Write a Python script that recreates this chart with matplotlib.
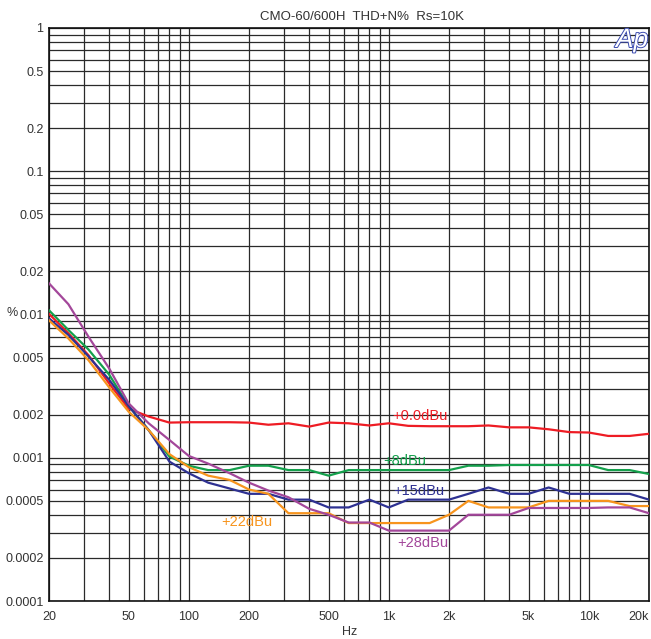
import matplotlib
matplotlib.use("Agg")
import matplotlib.pyplot as plt
import matplotlib.patheffects as pe
from matplotlib.ticker import FixedLocator, FixedFormatter, LogLocator, NullFormatter

# 1/3-octave measurement points, Hz
freq = [20, 25, 31.5, 40, 50, 63, 80, 100, 125, 160, 200, 250, 315, 400, 500,
        630, 800, 1000, 1250, 1600, 2000, 2500, 3150, 4000, 5000, 6300, 8000,
        10000, 12500, 16000, 20000]

# THD+N in percent for each drive level
thd_0dbu = [0.0101, 0.0074, 0.0052, 0.0033, 0.0022, 0.00194, 0.00176, 0.00177,
            0.00177, 0.00177, 0.00176, 0.00170, 0.00174, 0.00165, 0.00176,
            0.00174, 0.00168, 0.00174, 0.00167, 0.00166, 0.00166, 0.00166,
            0.00168, 0.00163, 0.00163, 0.00158, 0.00151, 0.00150, 0.00142,
            0.00142, 0.00147]
thd_8dbu = [0.0107, 0.0078, 0.0057, 0.0038, 0.0023, 0.00156, 0.00102, 0.00088,
            0.00082, 0.00082, 0.00088, 0.00088, 0.00082, 0.00082, 0.00075,
            0.00082, 0.00082, 0.00082, 0.00082, 0.00082, 0.00082, 0.00088,
            0.00088, 0.00089, 0.00089, 0.00089, 0.00089, 0.00089, 0.00082,
            0.00082, 0.00077]
thd_15dbu = [0.0094, 0.0072, 0.0051, 0.0035, 0.0023, 0.00156, 0.00094, 0.00078,
             0.00067, 0.00061, 0.00056, 0.00056, 0.00051, 0.00051, 0.00045,
             0.00045, 0.00051, 0.00045, 0.00051, 0.00051, 0.00051, 0.00056,
             0.00062, 0.00056, 0.00056, 0.00062, 0.00056, 0.00056, 0.00056,
             0.00056, 0.00051]
thd_22dbu = [0.0091, 0.0068, 0.0048, 0.0031, 0.0021, 0.00156, 0.00106, 0.00086,
             0.00075, 0.00070, 0.00060, 0.00056, 0.00041, 0.00041, 0.00041,
             0.00035, 0.00035, 0.00035, 0.00035, 0.00035, 0.00040, 0.00050,
             0.00045, 0.00045, 0.00045, 0.00050, 0.00050, 0.00050, 0.00050,
             0.00046, 0.00046]
thd_28dbu = [0.0165, 0.0118, 0.0070, 0.0042, 0.0024, 0.00174, 0.00133, 0.00103,
             0.00091, 0.00078, 0.00067, 0.00059, 0.00053, 0.00044, 0.00040,
             0.000353, 0.000353, 0.00031, 0.00031, 0.00031, 0.00031, 0.00040,
             0.00040, 0.00040, 0.000446, 0.000446, 0.000446, 0.000446, 0.00045,
             0.00045, 0.00041]

series = [
    ("+0.0dBu", thd_0dbu, "#ee1c24", (392, 416)),
    ("+8dBu", thd_8dbu, "#14a04c", (383, 461)),
    ("+15dBu", thd_15dbu, "#2e3192", (393, 491)),
    ("+22dBu", thd_22dbu, "#f7941d", (221, 522)),
    ("+28dBu", thd_28dbu, "#a3479a", (397, 543)),
]

x_ticks = [20, 50, 100, 200, 500, 1000, 2000, 5000, 10000, 20000]
x_labels = ["20", "50", "100", "200", "500", "1k", "2k", "5k", "10k", "20k"]
y_ticks = [1, 0.5, 0.2, 0.1, 0.05, 0.02, 0.01, 0.005, 0.002, 0.001,
           0.0005, 0.0002, 0.0001]
y_labels = ["1", "0.5", "0.2", "0.1", "0.05", "0.02", "0.01", "0.005",
            "0.002", "0.001", "0.0005", "0.0002", "0.0001"]

font = ["Liberation Sans Narrow", "Liberation Sans", "DejaVu Sans"]
plt.rcParams["font.family"] = font

W, H = 651, 639
fig = plt.figure(figsize=(W / 100, H / 100), dpi=100)
ax = fig.add_axes([49 / W, 1 - 601 / H, 600 / W, 573 / H])

ax.set_xscale("log")
ax.set_yscale("log")
ax.set_xlim(20, 20000)
ax.set_ylim(0.0001, 1)

# grid on every 1..9 subdivision of each decade
ax.xaxis.set_minor_locator(LogLocator(base=10, subs=range(1, 10), numticks=50))
ax.yaxis.set_minor_locator(LogLocator(base=10, subs=range(1, 10), numticks=50))
ax.xaxis.set_minor_formatter(NullFormatter())
ax.yaxis.set_minor_formatter(NullFormatter())
ax.grid(which="both", color="#2a2a2a", linewidth=0.9)
ax.set_axisbelow(True)

ax.xaxis.set_major_locator(FixedLocator(x_ticks))
ax.xaxis.set_major_formatter(FixedFormatter(x_labels))
ax.yaxis.set_major_locator(FixedLocator(y_ticks))
ax.yaxis.set_major_formatter(FixedFormatter(y_labels))
ax.tick_params(which="both", length=0, labelsize=9, colors="#333333")
ax.tick_params(axis="x", pad=7)
ax.tick_params(axis="y", pad=4)

# keep the last frequency label inside the figure
fig.canvas.draw()
ax.get_xticklabels()[-1].set_horizontalalignment("right")

for s in ax.spines.values():
    s.set_color("#111111")
    s.set_linewidth(1.2)

for name, vals, color, (lx, ly) in series:
    ax.plot(freq, vals, color=color, linewidth=1.6, zorder=3)
    fig.text(lx / W, 1 - ly / H, name, color=color, fontsize=10.5,
             va="center", ha="left")

fig.text(362 / W, 1 - 17 / H, "CMO-60/600H  THD+N%  Rs=10K", ha="center",
         va="center", fontsize=9.5, color="#333333")
fig.text(12 / W, 1 - 313 / H, "%", ha="center", va="center", fontsize=9,
         color="#333333")
fig.text(350 / W, 1 - 632 / H, "Hz", ha="center", va="center", fontsize=9,
         color="#333333")

# Ap logo in the upper right corner
logo = fig.text(632 / W, 1 - 40 / H, "Ap", ha="center", va="center",
                fontsize=19, style="italic", color="white", zorder=5,
                family=["Liberation Sans", "DejaVu Sans"])
logo.set_path_effects([pe.Stroke(linewidth=1.4, foreground="#3b4bb0"),
                       pe.Normal()])

fig.savefig("out.png", dpi=100)
